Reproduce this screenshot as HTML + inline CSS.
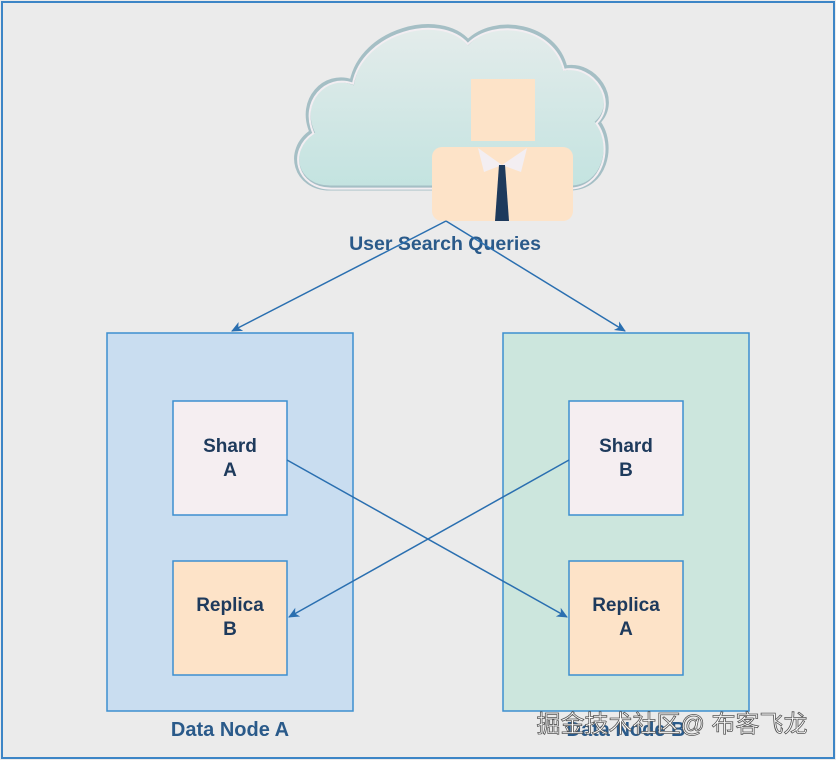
<!DOCTYPE html>
<html><head><meta charset="utf-8"><style>
body{margin:0;background:#ebebeb;}
svg{display:block}
</style></head><body>
<svg width="836" height="760" viewBox="0 0 836 760" xmlns="http://www.w3.org/2000/svg">
<defs>
<linearGradient id="cg" x1="0" y1="0" x2="0" y2="1">
<stop offset="0" stop-color="#e4eceb"/><stop offset="1" stop-color="#c3e3e0"/></linearGradient>
<marker id="ar" markerWidth="12" markerHeight="12" refX="10" refY="6" orient="auto" markerUnits="userSpaceOnUse">
<path d="M0,1 L11,6 L0,11 L3,6 Z" fill="#2a6fb0"/></marker>
</defs>
<rect x="0" y="0" width="836" height="760" fill="#ebebeb"/>
<rect x="2" y="2" width="832" height="756" fill="none" stroke="#3d85c6" stroke-width="2"/>
<!-- cloud -->
<path d="M330,188 C295,188 285,150 312,132 C298,100 325,72 352,82 C362,30 440,10 468,42 C495,15 555,25 565,68 C595,62 620,100 598,122 C615,145 605,188 570,188 Z" fill="url(#cg)" stroke="#a5bfc5" stroke-width="5"/>
<path d="M330,188 C295,188 285,150 312,132 C298,100 325,72 352,82 C362,30 440,10 468,42 C495,15 555,25 565,68 C595,62 620,100 598,122 C615,145 605,188 570,188 Z" fill="none" stroke="#f3eef2" stroke-width="2" transform="translate(4.5,2.5) scale(0.99)"/>
<!-- person -->
<rect x="471" y="79" width="64" height="62" fill="#fde3c8"/>
<rect x="432" y="147" width="141" height="74" rx="10" fill="#fde3c8"/>
<polygon points="478,148 502,165 527,148 521,172 502,165 484,172" fill="#f3eef2"/>
<polygon points="499,165 505,165 509,221 495,221" fill="#1e3a5c"/>
<text x="445" y="250" text-anchor="middle" font-family="Liberation Sans, sans-serif" font-weight="bold" font-size="19.5" fill="#2a5a8a">User Search Queries</text>
<!-- nodes -->
<rect x="107" y="333" width="246" height="378" fill="#c9ddf0" stroke="#3d8fd0" stroke-width="1.5"/>
<rect x="503" y="333" width="246" height="378" fill="#cce6dd" stroke="#3d8fd0" stroke-width="1.5"/>
<rect x="173" y="401" width="114" height="114" fill="#f5eef1" stroke="#3d8fd0" stroke-width="1.5"/>
<rect x="173" y="561" width="114" height="114" fill="#fde3c8" stroke="#3d8fd0" stroke-width="1.5"/>
<rect x="569" y="401" width="114" height="114" fill="#f5eef1" stroke="#3d8fd0" stroke-width="1.5"/>
<rect x="569" y="561" width="114" height="114" fill="#fde3c8" stroke="#3d8fd0" stroke-width="1.5"/>
<g font-family="Liberation Sans, sans-serif" font-weight="bold" font-size="19" fill="#1e3a5c" text-anchor="middle">
<text x="230" y="452">Shard</text><text x="230" y="476">A</text>
<text x="230" y="611">Replica</text><text x="230" y="635">B</text>
<text x="626" y="452">Shard</text><text x="626" y="476">B</text>
<text x="626" y="611">Replica</text><text x="626" y="635">A</text>
</g>
<text x="230" y="736" text-anchor="middle" font-family="Liberation Sans, sans-serif" font-weight="bold" font-size="20" fill="#2a5a8a">Data Node A</text>
<text x="626" y="736" text-anchor="middle" font-family="Liberation Sans, sans-serif" font-weight="bold" font-size="20" fill="#2a5a8a">Data Node B</text>
<!-- connectors -->
<g stroke="#2a6fb0" stroke-width="1.5" fill="none" marker-end="url(#ar)">
<line x1="446" y1="221" x2="232" y2="331"/>
<line x1="446" y1="221" x2="625" y2="331"/>
<line x1="287" y1="460" x2="567" y2="617"/>
<line x1="569" y1="460" x2="289" y2="617"/>
</g>
<text x="672" y="732" text-anchor="middle" font-family="Liberation Sans, Noto Sans CJK SC, sans-serif" font-size="24" fill="#ffffff" stroke="#555" stroke-width="0.8">掘金技术社区@ 布客飞龙</text>
</svg>
</body></html>
